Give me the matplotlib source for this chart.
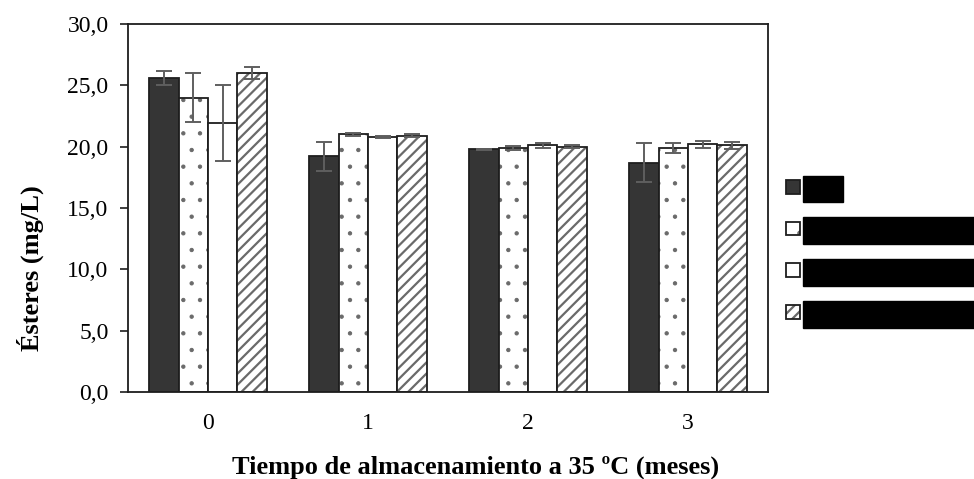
import matplotlib
matplotlib.use("Agg")
import matplotlib.pyplot as plt
from matplotlib.patches import Patch
import numpy as np

plt.rcParams['font.family'] = ['Liberation Serif', 'DejaVu Serif']
plt.rcParams['hatch.linewidth'] = 1.6

months = ["0", "1", "2", "3"]
series_labels = ["Ctrl",
                 "Levadura seca activa",
                 "Extracto de levadura",
                 "Lías finas de crianza"]
values = [
    [25.6, 19.2, 19.8, 18.7],
    [24.0, 21.0, 19.9, 19.9],
    [21.9, 20.8, 20.1, 20.2],
    [26.0, 20.9, 20.0, 20.1],
]
errors = [
    [0.6, 1.2, 0.05, 1.6],
    [2.0, 0.15, 0.15, 0.4],
    [3.1, 0.1, 0.2, 0.3],
    [0.5, 0.15, 0.1, 0.3],
]
yticks = [0, 5, 10, 15, 20, 25, 30]
ytick_labels = ["0,0", "5,0", "10,0", "15,0", "20,0", "25,0", "30,0"]

styles = [
    dict(facecolor="#353535", hatch=None, hlw=1.6),
    dict(facecolor="white", hatch=".", hlw=0.7),
    dict(facecolor="white", hatch=None, hlw=1.6),
    dict(facecolor="white", hatch="///", hlw=1.6),
]


def style_hatch(p, st):
    p._hatch_color = matplotlib.colors.to_rgba("#6a6a6a")
    if hasattr(p, "set_hatch_linewidth"):
        p.set_hatch_linewidth(st["hlw"])
    else:
        p._hatch_linewidth = st["hlw"]


fig = plt.figure(figsize=(9.74, 4.79), dpi=100)
ax = fig.add_axes([128/974, (479-392)/479, (768-128)/974, (392-24)/479])

x = np.arange(len(months))
w = 0.184
handles = []
for i, (vals, errs, st) in enumerate(zip(values, errors, styles)):
    pos = x + (i - 1.5) * w
    bars = ax.bar(pos, vals, width=w, facecolor=st["facecolor"], edgecolor="#1e1e1e",
                  linewidth=1.3, hatch=st["hatch"], zorder=2)
    for b in bars:
        style_hatch(b, st)
    ax.errorbar(pos, vals, yerr=errs, fmt="none", ecolor="#5f5f5f", elinewidth=1.4,
                capsize=6, capthick=1.4, zorder=3)
    h = Patch(facecolor=st["facecolor"], edgecolor="#1e1e1e", linewidth=1.3, hatch=st["hatch"])
    style_hatch(h, st)
    handles.append(h)

ax.set_xlim(-0.5, 3.5)
ax.set_ylim(0, 30)
ax.set_yticks(yticks)
ax.set_yticklabels(ytick_labels)
ax.set_xticks(x)
ax.set_xticklabels(months)
ax.tick_params(axis="y", length=6, width=1.2, pad=8, labelsize=17, color="#1e1e1e")
ax.tick_params(axis="x", length=0, pad=15, labelsize=17)
for s in ax.spines.values():
    s.set_linewidth(1.3)
    s.set_color("#1e1e1e")

ax.set_xlabel("Tiempo de almacenamiento a 35 ºC (meses)", fontsize=19, fontweight="bold")
ax.xaxis.label.set_va("center")
ax.xaxis.set_label_coords((476 - 128) / 640, (392 - 467) / 368)

fig.text(30/974, 1 - 268/479, "Ésteres (mg/L)", rotation=90, fontsize=19, fontweight="bold",
         ha="center", va="center")

leg = fig.legend(handles, series_labels, loc="upper left",
                 bbox_to_anchor=(786/974, 1 - 180/479), frameon=False, fontsize=14,
                 handlelength=0.7, handleheight=0.7, handletextpad=0.4,
                 labelspacing=1.24, borderaxespad=0, borderpad=0)
for t in leg.get_texts():
    t.set_color("#000000")
    t.set_bbox(dict(boxstyle="square,pad=0.25", facecolor="#000000", edgecolor="#000000"))

fig.savefig("out.png", dpi=100)
